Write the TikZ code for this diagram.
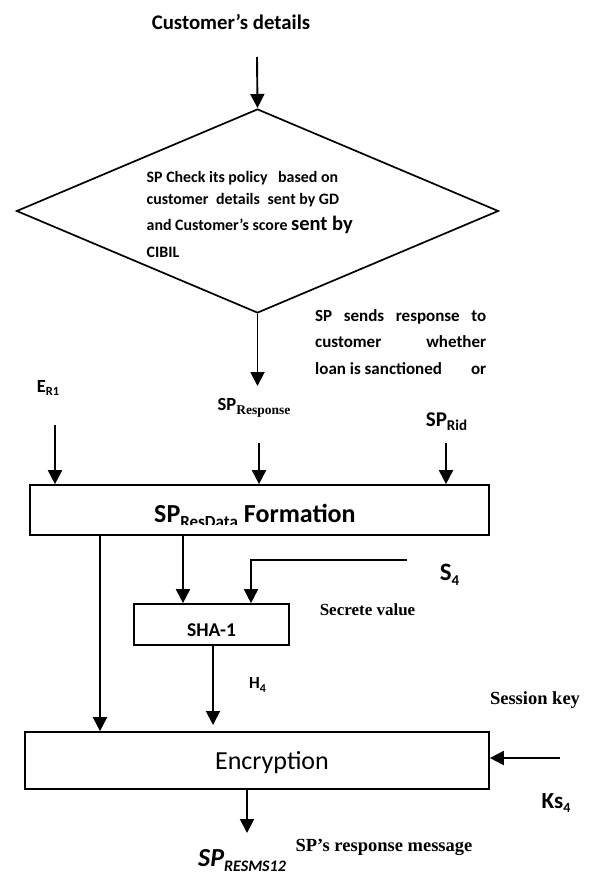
\documentclass[tikz,border=0pt]{standalone}
\usepackage{fontspec}
\setmainfont{Carlito}
\newfontfamily\tms{Liberation Serif}
\usetikzlibrary{arrows.meta,shapes.geometric}
\newcommand\fsz[1]{\fontsize{#1}{#1}\selectfont}
\newcommand\lsub[2]{\raisebox{-0.2em}{\fsz{#1}#2}}
\begin{document}
\begin{tikzpicture}[x=1pt,y=-1pt,
  lbl/.style={inner sep=0pt, font=\bfseries},
  arr/.style={-{Triangle[width=14pt,length=14pt]}, line width=1.9pt},
  boxn/.style={draw, line width=1.7pt, inner sep=0pt}]
\useasboundingbox (0,0) rectangle (590,877);

% title
\node[lbl, font=\bfseries\fsz{20.8}] (title) at (231,22) {Customer’s details};
\coordinate (tstart) at (257,57);

% diamond
\node[boxn, diamond, minimum width=482pt, minimum height=204pt] (dia) at (257.5,211) {};
\draw[arr] (tstart) -- (dia.north |- 0,108);

\node[lbl, anchor=base west, font=\bfseries\fsz{15.9}] (d1) at (146.5,183) {SP Check its policy\hspace{7pt} based on};
\node[lbl, anchor=base west, font=\bfseries\fsz{15.9}] (d2) at (146.5,205) {customer\hspace{4pt} details\hspace{4pt} sent by GD};
\node[lbl, anchor=base west, font=\bfseries\fsz{15.9}] (d3) at (146.5,231) {and Customer’s score {\fsz{20.5}sent by}};
\node[lbl, anchor=base west, font=\bfseries\fsz{15.9}] (d4) at (146.5,258) {CIBIL};

% response arrow
\coordinate (resp) at (257.5,386);
\draw[arr] (dia.south) -- (resp);

\node[lbl, anchor=base west, font=\bfseries\fsz{17}] (n1) at (315,321) {\makebox[171pt][s]{SP sends response to}};
\node[lbl, anchor=base west, font=\bfseries\fsz{17}] (n2) at (315,347) {\makebox[171pt][s]{customer whether}};
\node[lbl, anchor=base west, font=\bfseries\fsz{17}] (n3) at (315,374) {\makebox[171pt][s]{loan is sanctioned\hfill or}};

% inputs
\node[lbl, font=\bfseries\fsz{18.5}] (er) at (48,388) {E\lsub{12.5}{R1}};
\node[lbl, font=\bfseries\fsz{18.5}] (spr) at (254,408) {SP\lsub{13.5}{\tms\bfseries Response}};
\node[lbl, font=\bfseries\fsz{21}] (sprid) at (446.5,422) {SP\lsub{15}{Rid}};
\coordinate (erS) at (55,425);
\coordinate (sprS) at (259,443);
\coordinate (spridS) at (446,443);

% formation box
\node[boxn, minimum width=459pt, minimum height=50pt] (form) at (259.5,510) {};
\begin{scope}
\clip (0,0) rectangle (590,524);
\node[lbl, anchor=base west, font=\bfseries\fsz{26}] (formtxt) at (154,522) {SP\lsub{17}{ResData} Formation};
\end{scope}
\draw[arr] (erS) -- (form.north -| erS);
\draw[arr] (sprS) -- (form.north -| sprS);
\draw[arr] (spridS) -- (form.north -| spridS);

% SHA-1 box
\node[boxn, minimum width=155pt, minimum height=41pt] (sha) at (211.5,624.5) {};
\node[lbl, font=\bfseries\fsz{19.5}] (shatxt) at (211.5,630) {SHA-1};

% encryption box
\node[boxn, minimum width=464pt, minimum height=57pt] (enc) at (257,760.5) {};
\node[inner sep=0pt, font=\fsz{26}] (enctxt) at (272,763) {Encryption};

% connectors
\coordinate (xl) at (100,0);
\coordinate (xs) at (183,0);
\coordinate (xs4) at (251,0);
\coordinate (s4s) at (407,560);
\draw[arr] (form.south -| xl) -- (enc.north -| xl);
\draw[arr] (form.south -| xs) -- (sha.north -| xs);
\draw[arr] (s4s) -| (sha.north -| xs4);
\coordinate (h4e) at (213,725);
\draw[arr] (sha.south -| h4e) -- (h4e);
\coordinate (kss) at (560,758);
\draw[arr] (kss) -- (enc.east |- kss);
\coordinate (oute) at (247,833);
\draw[arr] (enc.south -| oute) -- (oute);

% labels
\node[lbl, font=\bfseries\fsz{25}] (s4) at (449.5,575) {S\lsub{15}{4}};
\node[lbl, font=\tms\bfseries\fsz{17}] (secv) at (367.5,610) {Secrete value};
\node[lbl, font=\bfseries\fsz{17}] (h4) at (257.5,685) {H\lsub{12}{4}};
\node[lbl, font=\tms\bfseries\fsz{18.5}] (sesk) at (535,700) {Session key};
\node[lbl, font=\bfseries\fsz{23}] (ks4) at (556,803) {Ks\lsub{14}{4}};
\node[lbl, font=\tms\bfseries\fsz{18.5}] (spmsg) at (384,847) {SP’s response message};
\node[lbl, anchor=base west, font=\bfseries\itshape\fsz{26}] (resms) at (198,866) {SP\lsub{16}{RESMS12}};
\end{tikzpicture}
\end{document}
